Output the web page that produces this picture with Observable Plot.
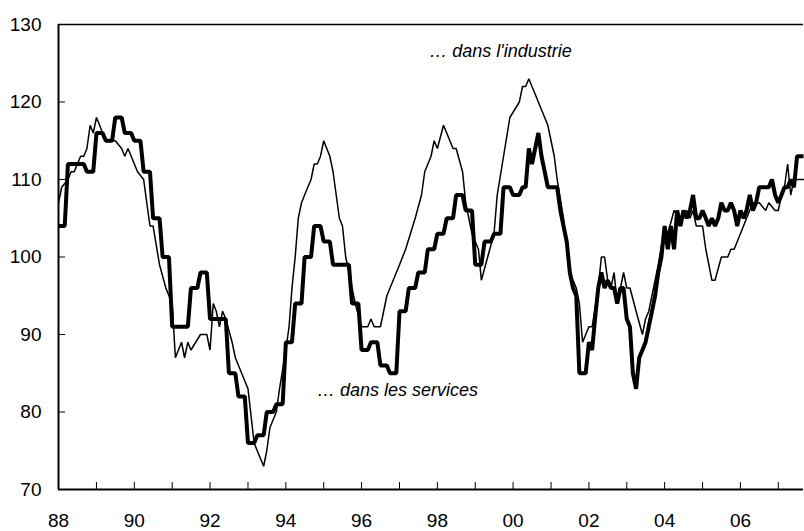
<!DOCTYPE html>
<html><head><meta charset="utf-8">
<script src="https://cdn.jsdelivr.net/npm/d3@7"></script>
<script src="https://cdn.jsdelivr.net/npm/@observablehq/plot@0.6"></script>
<style>html,body{margin:0;padding:0;background:#fff}svg{display:block}</style>
</head><body><div id="chart"></div>
<script>
// ---- Data ----
// Industry: monthly series, points read at its vertices
const industrieDates = [
"1988-01","1988-02","1988-04","1988-05","1988-06","1988-07","1988-08","1988-09","1988-10","1988-11","1988-12",
"1989-01","1989-02","1989-03","1989-04","1989-07","1989-09","1989-10","1989-11",
"1990-02","1990-04","1990-05","1990-06","1990-07","1990-09","1990-11","1990-12",
"1991-01","1991-02","1991-04","1991-05","1991-06","1991-07","1991-10","1991-12",
"1992-01","1992-02","1992-03","1992-04","1992-05","1992-06","1992-08","1992-09",
"1993-01","1993-03","1993-06","1993-07","1993-08","1993-10","1993-11",
"1994-01","1994-02","1994-03","1994-04","1994-05","1994-06","1994-07","1994-09","1994-10","1994-11","1994-12",
"1995-01","1995-03","1995-04","1995-06","1995-07","1995-08","1995-11",
"1996-01","1996-03","1996-04","1996-05","1996-07","1996-09","1996-11",
"1997-01","1997-03","1997-06","1997-08","1997-09","1997-11","1997-12",
"1998-01","1998-03","1998-04","1998-06","1998-07","1998-09","1998-10","1998-12",
"1999-02","1999-03","1999-05","1999-07","1999-08","1999-10","1999-12",
"2000-03","2000-04","2000-05","2000-06","2000-07","2000-08","2000-10","2000-12",
"2001-02","2001-03","2001-05","2001-07","2001-09","2001-10","2001-11",
"2002-01","2002-02","2002-04","2002-05","2002-06","2002-07","2002-08","2002-09","2002-10","2002-11","2002-12",
"2003-01","2003-02","2003-04","2003-06","2003-07","2003-08","2003-11",
"2004-01","2004-02","2004-04","2004-06","2004-08","2004-09","2004-10","2004-11",
"2005-01","2005-02","2005-04","2005-05","2005-07","2005-09","2005-10","2005-11",
"2006-01","2006-03","2006-05","2006-07","2006-09","2006-10","2006-12",
"2007-01","2007-02","2007-03","2007-04","2007-05","2007-06","2007-09"
];
const industrieValues = [
107,109,110,111,111,112,113,113,114,117,116,
118,117,116,115,115,114,113,114,
111,110,107,104,104,99,96,95,
94,87,89,87,89,88,90,90,
88,94,93,91,93,92,89,87,
83,76,73,75,78,80,83,
88,91,96,100,105,107,108,110,112,112,113,
115,113,111,105,104,100,94,
91,91,92,91,91,95,97,
99,101,105,108,111,113,115,
114,117,116,114,114,111,107,103,
101,97,100,103,108,113,118,
120,122,122,123,122,121,119,117,
113,110,105,98,96,94,89,
91,91,96,100,100,97,96,98,94,96,98,
96,96,93,90,92,93,99,
104,103,106,105,106,105,106,104,
104,101,97,97,100,100,101,101,
103,105,107,107,106,107,106,
106,108,109,112,108,110,110
];

// Services: quarterly values 1988 Q1 - 2000 Q1 (drawn over the 3 months of each quarter)
const servicesQuarterStart = "1988-01";
const servicesQuarterly = [
104,112,112,111,  116,115,118,116,  115,111,105,100,  91,91,96,98,
92,92,85,82,      76,77,80,81,      89,94,100,104,    102,99,99,94,
88,89,86,85,      93,96,98,101,     103,105,108,106,  99,102,103,109,
108
];
// Services: monthly values 2000-04 - 2007-09
const servicesMonthlyStart = "2000-04";
const servicesMonthly = [
109,109,114,112,114,116,113,111,109,
109,109,109,106,104,102,98,96,95,85,85,85,
89,88,92,96,98,96,97,96,96,94,96,96,
92,91,85,83,87,88,89,91,93,95,98,100,
104,101,104,101,106,104,106,105,106,108,105,105,
106,105,104,105,104,105,107,106,106,107,106,104,
106,105,106,108,106,107,109,109,109,109,110,108,
107,108,109,109,110,109,113,113,113
];

const yTicks = [70, 80, 90, 100, 110, 120, 130];
const xStart = "1988-01", xEnd = "2007-09";
const labelIndustrie = "\u2026 dans l'industrie";
const labelServices = "\u2026 dans les services";

// ---- Build tables ----
const parse = d3.utcParse("%Y-%m");
const industrie = industrieDates.map((d, i) => ({date: parse(d), value: industrieValues[i]}));
const services = [];
const q0 = parse(servicesQuarterStart);
servicesQuarterly.forEach((v, q) => {
  for (let k = 0; k < 3; k++) services.push({date: d3.utcMonth.offset(q0, q * 3 + k), value: v});
});
const m0 = parse(servicesMonthlyStart);
servicesMonthly.forEach((v, i) => services.push({date: d3.utcMonth.offset(m0, i), value: v}));

const start = parse(xStart), end = parse(xEnd);
const yearsAll = d3.utcYears(start, d3.utcDay.offset(end, 1));
const yearsEven = yearsAll.filter(d => d.getUTCFullYear() % 2 === 0);

const chart = Plot.plot({
  width: 804, height: 531,
  marginLeft: 58, marginRight: 1, marginTop: 24, marginBottom: 42,
  style: {fontFamily: "'Liberation Sans', Arial, sans-serif", fontSize: "19px", color: "#000", background: "#fff", overflow: "visible"},
  x: {type: "utc", domain: [start, end], label: null},
  y: {domain: [70, 130], label: null},
  marks: [
    Plot.axisY(yTicks, {tickSize: 7, dx: 7, tickFormat: () => "", strokeWidth: 1}),
    Plot.axisY(yTicks, {tickSize: 0, tickPadding: 17, tickFormat: d => String(d)}),
    Plot.axisX(yearsAll, {tickSize: 7, dy: -7, tickFormat: () => "", strokeWidth: 1}),
    Plot.axisX(yearsEven, {tickSize: 0, tickPadding: 24, tickFormat: d3.utcFormat("%y")}),
    Plot.ruleY([130], {stroke: "#000", strokeWidth: 1.5}),
    Plot.ruleY([70], {stroke: "#000", strokeWidth: 2}),
    Plot.ruleX([start], {stroke: "#000", strokeWidth: 2}),
    Plot.line(industrie, {x: "date", y: "value", stroke: "#000", strokeWidth: 1.5, strokeLinejoin: "miter"}),
    Plot.line(services, {x: "date", y: "value", stroke: "#000", strokeWidth: 4, strokeLinejoin: "miter", strokeLinecap: "butt"}),
    Plot.text([labelIndustrie], {x: parse("1999-09"), y: 126.55, text: d => d, fontStyle: "italic", fontSize: 18, textAnchor: "middle", lineAnchor: "middle", fill: "#000"}),
    Plot.text([labelServices], {x: d3.utcDay.offset(parse("1996-12"), 12), y: 82.75, text: d => d, fontStyle: "italic", fontSize: 18, textAnchor: "middle", lineAnchor: "middle", fill: "#000"})
  ]
});
document.getElementById("chart").appendChild(chart);
</script>
</body></html>
